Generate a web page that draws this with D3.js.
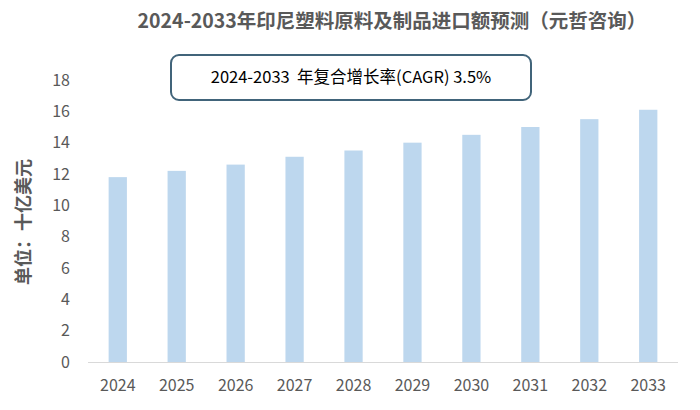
<!DOCTYPE html>
<html><head><meta charset="utf-8">
<script src="https://cdn.jsdelivr.net/npm/d3@7"></script>
<style>body{margin:0;background:#fff}</style></head>
<body><svg id="c" width="700" height="410"></svg>
<script>
const years = ["2024","2025","2026","2027","2028","2029","2030","2031","2032","2033"];
const values = [11.8,12.2,12.6,13.1,13.5,14.0,14.5,15.0,15.5,16.1];
const yTicks = [0,2,4,6,8,10,12,14,16,18];
const title = "2024-2033年印尼塑料原料及制品进口额预测（元哲咨询）";
const yLabel = "单位：十亿美元";
const note = "2024-2033  年复合增长率(CAGR) 3.5%";
const font = "'Noto Sans CJK SC', 'Noto Sans', sans-serif";

const svg = d3.select("#c");
const x = d3.scaleBand().domain(years).range([88, 678]).paddingInner(0.69).paddingOuter(0.35);
const y = d3.scaleLinear().domain([0,18]).range([362, 80]);

svg.append("text").attr("x",392).attr("y",28).attr("text-anchor","middle")
  .attr("font-family",font).attr("font-weight","bold").attr("font-size",19.5).attr("fill","#595959").text(title);

svg.selectAll("rect.bar").data(values).join("rect").attr("class","bar")
  .attr("x",(d,i)=>x(years[i])).attr("width",x.bandwidth())
  .attr("y",d=>y(d)).attr("height",d=>y(0)-y(d)).attr("fill","#bdd7ee");

svg.append("line").attr("x1",88).attr("x2",678).attr("y1",y(0)+0.5).attr("y2",y(0)+0.5).attr("stroke","#d9d9d9");

const ya = svg.append("g").attr("transform","translate(70,0)")
  .call(d3.axisLeft(y).tickValues(yTicks).tickSize(0).tickPadding(0));
ya.select(".domain").remove();
ya.selectAll("text").attr("font-family",font).attr("font-size",16).attr("fill","#595959");

const xa = svg.append("g").attr("transform","translate(0,"+(y(0)+12)+")")
  .call(d3.axisBottom(x).tickSize(0).tickPadding(6));
xa.select(".domain").remove();
xa.selectAll("text").attr("font-family",font).attr("font-size",16).attr("fill","#595959");

svg.append("text").attr("transform","translate(30,222) rotate(-90)").attr("text-anchor","middle")
  .attr("font-family",font).attr("font-weight","bold").attr("font-size",18).attr("fill","#595959").text(yLabel);

svg.append("rect").attr("x",171).attr("y",55).attr("width",360).attr("height",45).attr("rx",8)
  .attr("fill","#fff").attr("stroke","#41647a").attr("stroke-width",2);
svg.append("text").attr("x",351).attr("y",83).attr("text-anchor","middle").attr("xml:space","preserve")
  .style("white-space","pre")
  .attr("font-family",font).attr("font-size",16.5).attr("fill","#000").text(note);
</script></body></html>
